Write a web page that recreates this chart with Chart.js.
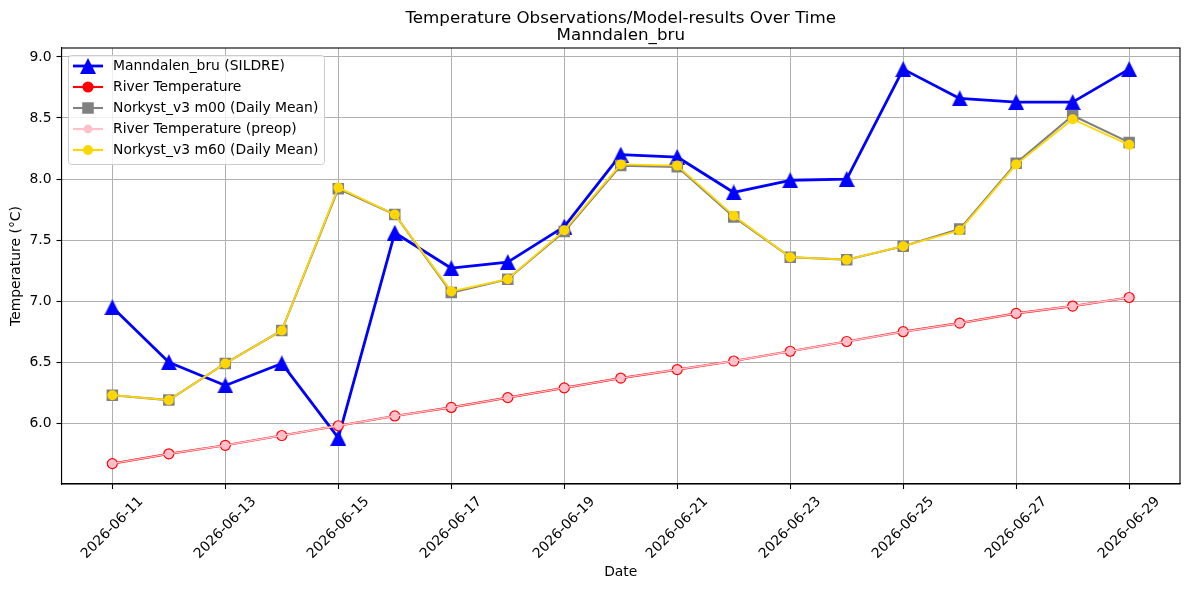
<!DOCTYPE html>
<html>
<head>
<meta charset="utf-8">
<title>Temperature Observations/Model-results Over Time</title>
<script src="https://cdn.jsdelivr.net/npm/chart.js@4.4.1/dist/chart.umd.min.js"></script>
<style>
  html, body { margin: 0; padding: 0; background: #fff; }
  #wrap { width: 1189px; height: 590px; position: relative; }
</style>
</head>
<body>
<div id="wrap"><canvas id="chart"></canvas></div>
<script>
// ─── Data ────────────────────────────────────────────────────
const dates = [
  '2026-06-11', '2026-06-12', '2026-06-13', '2026-06-14', '2026-06-15',
  '2026-06-16', '2026-06-17', '2026-06-18', '2026-06-19', '2026-06-20',
  '2026-06-21', '2026-06-22', '2026-06-23', '2026-06-24', '2026-06-25',
  '2026-06-26', '2026-06-27', '2026-06-28', '2026-06-29'
];
const sildre = [6.95, 6.50, 6.31, 6.49, 5.88, 7.56, 7.27, 7.32, 7.61, 8.20,
                8.18, 7.89, 7.99, 8.00, 8.90, 8.66, 8.63, 8.63, 8.90];
const riverTemp = [5.67, 5.75, 5.82, 5.90, 5.98, 6.06, 6.13, 6.21, 6.29, 6.37,
                   6.44, 6.51, 6.59, 6.67, 6.75, 6.82, 6.90, 6.96, 7.03];
const norkystM00 = [6.23, 6.19, 6.49, 6.76, 7.92, 7.71, 7.07, 7.18, 7.57, 8.11,
                    8.10, 7.69, 7.36, 7.34, 7.45, 7.59, 8.13, 8.52, 8.30];
const riverPreop = [5.67, 5.75, 5.82, 5.90, 5.98, 6.06, 6.13, 6.21, 6.29, 6.37,
                    6.44, 6.51, 6.59, 6.67, 6.75, 6.82, 6.90, 6.96, 7.03];
const norkystM60 = [6.23, 6.19, 6.49, 6.76, 7.93, 7.71, 7.08, 7.18, 7.58, 8.12,
                    8.11, 7.70, 7.36, 7.34, 7.45, 7.58, 8.12, 8.49, 8.28];
const yTickValues = [6.0, 6.5, 7.0, 7.5, 8.0, 8.5, 9.0];
const xTickStep = 2;

const TITLE = ['Temperature Observations/Model-results Over Time', 'Manndalen_bru'];
const FONT = '"DejaVu Sans", sans-serif';

// matplotlib-like '^' marker (as wide as it is tall)
function triangleMarker(size, color) {
  const c = document.createElement('canvas');
  c.width = size; c.height = size;
  const g = c.getContext('2d');
  g.fillStyle = color;
  g.beginPath();
  g.moveTo(size / 2, 0);
  g.lineTo(size, size);
  g.lineTo(0, size);
  g.closePath();
  g.fill();
  return c;
}

const toPoints = (arr) => arr.map((v, i) => ({ x: i, y: v }));

const series = [
  { label: 'Manndalen_bru (SILDRE)', data: sildre, color: '#0000ff', width: 2.8,
    marker: 'tri', size: 16 },
  { label: 'River Temperature', data: riverTemp, color: '#ff0000', width: 2.2,
    marker: 'circle', size: 5.6 },
  { label: 'Norkyst_v3 m00 (Daily Mean)', data: norkystM00, color: '#808080', width: 2.1,
    marker: 'square', size: 11.5 },
  { label: 'River Temperature (preop)', data: riverPreop, color: '#ffc0cb', width: 1.4,
    marker: 'circle', size: 4.4 },
  { label: 'Norkyst_v3 m60 (Daily Mean)', data: norkystM60, color: '#ffd700', width: 1.8,
    marker: 'circle', size: 5 },
];

const triImg = triangleMarker(16, '#0000ff');

const datasets = series.map((s, idx) => {
  const ds = {
    label: s.label,
    data: toPoints(s.data),
    borderColor: s.color,
    backgroundColor: s.color,
    borderWidth: s.width,
    borderJoinStyle: 'round',
    tension: 0,
    pointBackgroundColor: s.color,
    pointBorderColor: s.color,
    pointBorderWidth: 0,
    order: series.length - idx, // later series on top, like matplotlib
  };
  if (s.marker === 'tri') {
    ds.pointStyle = triImg;
    ds.pointRadius = 8;
  } else if (s.marker === 'square') {
    ds.pointStyle = 'rect';
    ds.pointRadius = s.size / Math.SQRT2;
  } else {
    ds.pointStyle = 'circle';
    ds.pointRadius = s.size;
  }
  return ds;
});

// ─── Drawing helpers ────────────────────────────────────────
function drawMarker(ctx, s, x, y) {
  ctx.fillStyle = s.color;
  if (s.marker === 'tri') {
    ctx.drawImage(triImg, x - 8, y - 8, 16, 16);
  } else if (s.marker === 'square') {
    ctx.fillRect(x - s.size / 2, y - s.size / 2, s.size, s.size);
  } else {
    ctx.beginPath();
    ctx.arc(x, y, s.size, 0, Math.PI * 2);
    ctx.fill();
  }
}

function roundRect(ctx, x, y, w, h, r) {
  ctx.beginPath();
  ctx.moveTo(x + r, y);
  ctx.lineTo(x + w - r, y);
  ctx.arcTo(x + w, y, x + w, y + r, r);
  ctx.lineTo(x + w, y + h - r);
  ctx.arcTo(x + w, y + h, x + w - r, y + h, r);
  ctx.lineTo(x + r, y + h);
  ctx.arcTo(x, y + h, x, y + h - r, r);
  ctx.lineTo(x, y + r);
  ctx.arcTo(x, y, x + r, y, r);
  ctx.closePath();
}

const mplDecor = {
  id: 'mplDecor',
  afterDatasetsDraw(chart) {
    const { ctx, chartArea: a, scales } = chart;
    ctx.save();

    // spines
    ctx.strokeStyle = '#000';
    ctx.lineWidth = 1.1;
    ctx.strokeRect(a.left, a.top, a.right - a.left, a.bottom - a.top);

    // legend inside upper left
    const bx = 68, by = 55, bw = 256, bh = 109;
    roundRect(ctx, bx + 0.5, by + 0.5, bw, bh, 3);
    ctx.fillStyle = 'rgba(255,255,255,0.8)';
    ctx.fill();
    ctx.strokeStyle = '#cccccc';
    ctx.lineWidth = 1;
    ctx.stroke();

    ctx.font = '13.9px ' + FONT;
    ctx.textBaseline = 'middle';
    ctx.textAlign = 'left';
    series.forEach((s, i) => {
      const y = 66 + i * 21;
      ctx.strokeStyle = s.color;
      ctx.lineWidth = s.marker === 'tri' ? 2.8 : 2.1;
      ctx.beginPath();
      ctx.moveTo(73, y);
      ctx.lineTo(103, y);
      ctx.stroke();
      drawMarker(ctx, s, 88, y);
      ctx.fillStyle = '#000';
      ctx.fillText(s.label, 113, y + 0.5);
    });

    ctx.restore();
  },
  afterDraw(chart) {
    const { ctx, chartArea: a, scales } = chart;
    const cx = (a.left + a.right) / 2;
    ctx.save();
    ctx.fillStyle = '#000';

    // title (two lines)
    ctx.font = '16.7px ' + FONT;
    ctx.textAlign = 'center';
    ctx.textBaseline = 'alphabetic';
    ctx.fillText(TITLE[0], cx, 22.5);
    ctx.fillText(TITLE[1], cx, 39.5);

    // rotated x tick labels, centred under each tick (matplotlib rotation=45)
    ctx.font = '13.9px ' + FONT;
    ctx.textBaseline = 'middle';
    scales.x.ticks.forEach((t) => {
      const label = dates[t.value];
      const x = scales.x.getPixelForValue(t.value);
      const w = ctx.measureText(label).width;
      const half = (w + 16) * Math.SQRT1_2 / 2;
      ctx.save();
      ctx.translate(x, a.bottom + 9.7 + half);
      ctx.rotate(-Math.PI / 4);
      ctx.fillText(label, 0, 0);
      ctx.restore();
    });

    // axis labels
    ctx.textBaseline = 'middle';
    ctx.fillText('Date', cx, 572);
    ctx.save();
    ctx.translate(16, (a.top + a.bottom) / 2);
    ctx.rotate(-Math.PI / 2);
    ctx.fillText('Temperature (°C)', 0, 0);
    ctx.restore();

    ctx.restore();
  }
};

new Chart(document.getElementById('chart'), {
  type: 'line',
  data: { datasets },
  options: {
    responsive: true,
    maintainAspectRatio: false,
    animation: false,
    layout: { padding: { top: 48, right: 9, bottom: 0, left: 0 } },
    plugins: {
      legend: { display: false },
      title: { display: false },
      tooltip: { enabled: false },
    },
    scales: {
      x: {
        type: 'linear',
        min: -0.9,
        max: dates.length - 1 + 0.9,
        afterBuildTicks: (scale) => {
          scale.ticks = dates.map((d, i) => i)
            .filter((i) => i % xTickStep === 0)
            .map((v) => ({ value: v }));
        },
        afterFit: (scale) => { scale.height = 106; },
        ticks: { display: false },
        grid: { color: '#b0b0b0', lineWidth: 1, tickLength: 5, tickColor: '#000', tickWidth: 1.1 },
        border: { display: true, color: '#000', width: 1.1 },
      },
      y: {
        type: 'linear',
        min: 5.503,
        max: 9.073,
        afterBuildTicks: (scale) => {
          scale.ticks = yTickValues.map((v) => ({ value: v }));
        },
        afterFit: (scale) => { scale.width = 61.5; },
        ticks: {
          color: '#000',
          padding: 5,
          font: { family: FONT, size: 13.9 },
          callback: (v) => Number(v).toFixed(1),
        },
        grid: { color: '#b0b0b0', lineWidth: 1, tickLength: 5, tickColor: '#000', tickWidth: 1.1 },
        border: { display: true, color: '#000', width: 1.1 },
      },
    },
  },
  plugins: [mplDecor],
});
</script>
</body>
</html>
